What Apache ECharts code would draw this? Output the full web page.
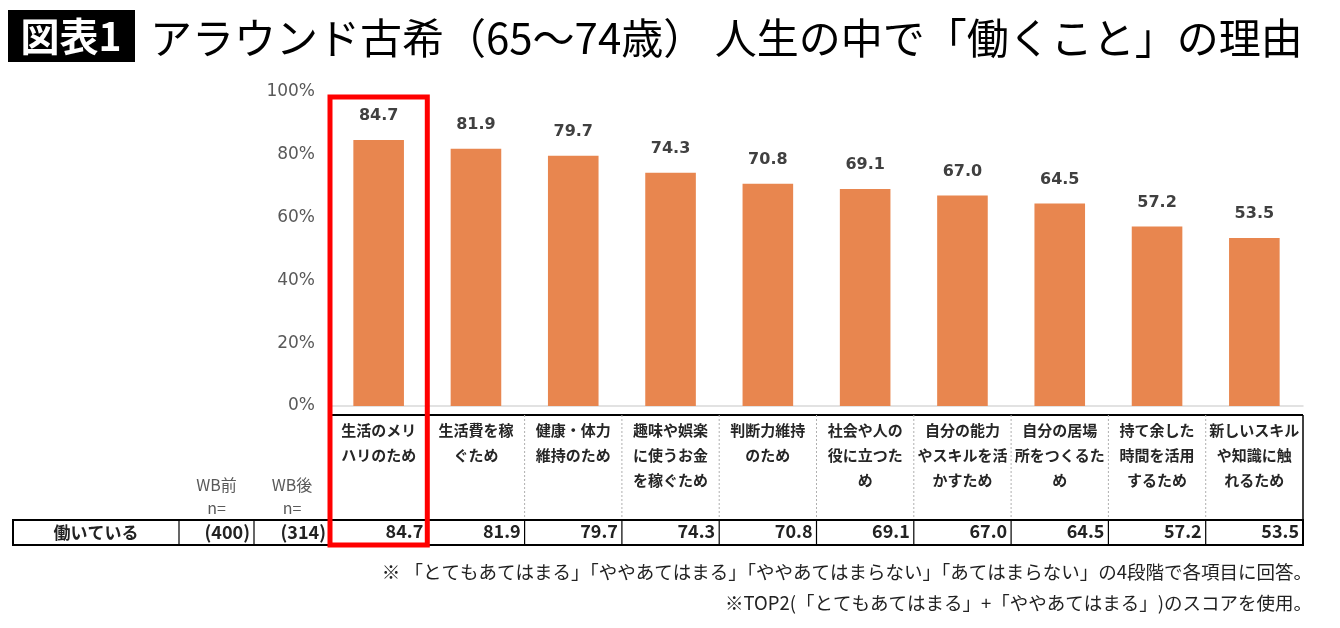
<!DOCTYPE html>
<html>
<head>
<meta charset="utf-8">
<script src="https://cdn.jsdelivr.net/npm/echarts@6/dist/echarts.min.js"></script>
<style>
html, body { margin: 0; padding: 0; background: #fff; }
#chart { width: 1340px; height: 628px; }
</style>
</head>
<body>
<div id="chart"></div>
<script>
// 項目(改行位置は元の表に合わせる)
const categories = [
    '生活のメリ\nハリのため',
    '生活費を稼\nぐため',
    '健康・体力\n維持のため',
    '趣味や娯楽\nに使うお金\nを稼ぐため',
    '判断力維持\nのため',
    '社会や人の\n役に立つた\nめ',
    '自分の能力\nやスキルを活\nかすため',
    '自分の居場\n所をつくるた\nめ',
    '持て余した\n時間を活用\nするため',
    '新しいスキル\nや知識に触\nれるため'
];
// 働いている人のTOP2スコア(%)
const values = [84.7, 81.9, 79.7, 74.3, 70.8, 69.1, 67.0, 64.5, 57.2, 53.5];
const rowLabel = '働いている';
const sampleHeaders = ['WB前\nn=', 'WB後\nn='];
const sampleSizes = ['(400)', '(314)'];
const titleTag = '図表1';
const titleText = 'アラウンド古希（65〜74歳） 人生の中で「働くこと」の理由';
const notes = [
    '※ 「とてもあてはまる」「ややあてはまる」「ややあてはまらない」「あてはまらない」の4段階で各項目に回答。',
    '※TOP2(「とてもあてはまる」+「ややあてはまる」)のスコアを使用。'
];

const JP = '"Noto Sans CJK JP", "Noto Sans", sans-serif';
const LATIN = '"DejaVu Sans", Verdana, sans-serif';

// レイアウト
const plotLeft = 330;
const plotRight = 1303;
const plotTop = 92;
const plotBottom = 406;
const tableTop = 415;
const rowTop = 520;
const rowBottom = 545;
const tableLeft = 13;
const colEdges = [179, 254];
const colW = (plotRight - plotLeft) / categories.length;

const chart = echarts.init(document.getElementById('chart'));

// 表の罫線など
const buildGraphic = () => {
    const g = [];
    // タイトル
    g.push({ type: 'rect', shape: { x: 8, y: 10, width: 127, height: 52 }, style: { fill: '#000' } });
    g.push({
        type: 'text', x: 71, y: 36,
        style: { text: titleTag, fill: '#fff', font: 'bold 39px ' + JP, textAlign: 'center', textVerticalAlign: 'middle' }
    });
    g.push({
        type: 'text', x: 150, y: 38,
        style: { text: titleText, fill: '#000', font: '42px ' + JP, textAlign: 'left', textVerticalAlign: 'middle' }
    });

    // 表ヘッダ上の太線
    g.push({ type: 'line', shape: { x1: plotLeft, y1: tableTop, x2: plotRight, y2: tableTop }, style: { stroke: '#000', lineWidth: 2 } });
    // 右端
    g.push({ type: 'line', shape: { x1: plotRight, y1: tableTop, x2: plotRight, y2: rowTop }, style: { stroke: '#000', lineWidth: 1.5 } });
    // 項目間の点線
    for (let i = 1; i < categories.length; i++) {
        const x = plotLeft + colW * i;
        g.push({ type: 'line', shape: { x1: x, y1: tableTop, x2: x, y2: rowTop }, style: { stroke: '#b0b0b0', lineWidth: 1, lineDash: [2, 2] } });
    }
    // データ行の枠
    g.push({ type: 'rect', shape: { x: tableLeft, y: rowTop, width: plotRight - tableLeft, height: rowBottom - rowTop }, style: { fill: 'none', stroke: '#000', lineWidth: 2 } });
    const vlines = colEdges.concat([plotLeft]);
    for (let i = 1; i < categories.length; i++) vlines.push(plotLeft + colW * i);
    vlines.forEach(x => {
        g.push({ type: 'line', shape: { x1: x, y1: rowTop, x2: x, y2: rowBottom }, style: { stroke: '#000', lineWidth: 1.2 } });
    });

    // 行見出し
    g.push({
        type: 'text', x: (tableLeft + colEdges[0]) / 2, y: (rowTop + rowBottom) / 2,
        style: { text: rowLabel, fill: '#222', font: 'bold 17px ' + JP, textAlign: 'center', textVerticalAlign: 'middle' }
    });
    const sampleCols = [[colEdges[0], colEdges[1]], [colEdges[1], plotLeft]];
    sampleCols.forEach((c, i) => {
        g.push({
            type: 'text', x: (c[0] + c[1]) / 2, y: 496,
            style: { text: sampleHeaders[i], fill: '#595959', font: '16px ' + JP, textAlign: 'center', textVerticalAlign: 'middle', lineHeight: 23 }
        });
        g.push({
            type: 'text', x: c[1] - 4, y: (rowTop + rowBottom) / 2,
            style: { text: sampleSizes[i], fill: '#222', font: 'bold 18px ' + JP, textAlign: 'right', textVerticalAlign: 'middle' }
        });
    });

    // 赤枠(1番目の項目)
    g.push({
        type: 'rect', z: 100,
        shape: { x: plotLeft, y: 97, width: colW, height: rowBottom - 97 },
        style: { fill: 'none', stroke: '#ff0000', lineWidth: 5 }
    });

    // 注記
    notes.forEach((t, i) => {
        g.push({
            type: 'text', x: 1312, y: 572 + i * 31,
            style: { text: t, fill: '#222', font: '18.5px ' + JP, textAlign: 'right', textVerticalAlign: 'middle' }
        });
    });
    return g;
};

const option = {
    animation: false,
    grid: {
        left: plotLeft,
        right: 1340 - plotRight,
        top: plotTop,
        bottom: 628 - plotBottom
    },
    xAxis: [
        {
            type: 'category',
            data: categories,
            position: 'bottom',
            axisLine: { show: true, lineStyle: { color: '#d9d9d9', width: 1.5 } },
            axisTick: { show: false },
            axisLabel: {
                interval: 0,
                margin: 12,
                fontFamily: JP,
                fontSize: 15,
                fontWeight: 'bold',
                color: '#262626',
                lineHeight: 25,
                verticalAlign: 'top'
            }
        },
        {
            // データ行の数値
            type: 'category',
            data: categories,
            position: 'bottom',
            axisLine: { show: false },
            axisTick: { show: false },
            axisLabel: {
                interval: 0,
                margin: 116,
                formatter: (v, i) => `{v|${values[i].toFixed(1)}}`,
                rich: {
                    v: {
                        width: colW - 8,
                        align: 'right',
                        fontFamily: JP,
                        fontSize: 18,
                        fontWeight: 'bold',
                        color: '#222'
                    }
                }
            }
        }
    ],
    yAxis: {
        type: 'value',
        min: 0,
        max: 100,
        interval: 20,
        axisLine: { show: false },
        axisTick: { show: false },
        splitLine: { show: false },
        axisLabel: {
            margin: 15,
            formatter: '{value}%',
            fontFamily: LATIN,
            fontSize: 17,
            color: '#595959'
        }
    },
    series: [{
        type: 'bar',
        xAxisIndex: 0,
        data: values,
        barWidth: '52%',
        itemStyle: { color: '#e8864f' },
        label: {
            show: true,
            position: 'top',
            distance: 16,
            formatter: p => p.value.toFixed(1),
            fontFamily: LATIN,
            fontSize: 16,
            fontWeight: 'bold',
            color: '#404040'
        }
    }],
    graphic: buildGraphic()
};

chart.setOption(option);
</script>
</body>
</html>
